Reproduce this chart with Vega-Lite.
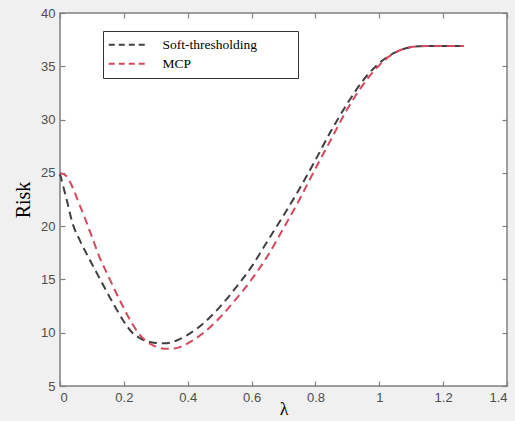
{
  "$schema": "https://vega.github.io/schema/vega-lite/v6.json",
  "width": 447,
  "height": 373,
  "autosize": "none",
  "padding": {"left": 60, "top": 13, "right": 8, "bottom": 35},
  "background": "#f0f0f0",
  "config": {
    "view": {"fill": "white", "stroke": "#808080", "strokeWidth": 1.5},
    "axis": {
      "grid": false,
      "domain": false,
      "ticks": true,
      "tickColor": "#808080",
      "tickSize": -5,
      "tickWidth": 1.2,
      "labelColor": "#4d4d4d",
      "labelFont": "Liberation Sans",
      "labelFontSize": 13,
      "titleFont": "Liberation Serif",
      "titleFontSize": 19,
      "titleFontWeight": "normal",
      "titleColor": "black"
    },
    "legend": {
      "orient": "none",
      "legendX": 43,
      "legendY": 18,
      "title": null,
      "strokeColor": "#333333",
      "fillColor": "white",
      "padding": 7,
      "labelFont": "Liberation Serif",
      "labelFontSize": 13.5,
      "labelColor": "black",
      "symbolType": "M-4,0H4M31.5,0",
      "symbolSize": 100,
      "symbolStrokeWidth": 2,
      "symbolDash": [6, 4],
      "symbolOffset": 12,
      "labelOffset": 27,
      "rowPadding": 4
    }
  },
  "data": {
    "values": [
      {"lambda": 0.0, "risk": 24.9, "method": "Soft-thresholding"},
      {"lambda": 0.02, "risk": 22.6, "method": "Soft-thresholding"},
      {"lambda": 0.04, "risk": 20.2, "method": "Soft-thresholding"},
      {"lambda": 0.06, "risk": 18.8, "method": "Soft-thresholding"},
      {"lambda": 0.08, "risk": 17.6, "method": "Soft-thresholding"},
      {"lambda": 0.1, "risk": 16.45, "method": "Soft-thresholding"},
      {"lambda": 0.125, "risk": 15.05, "method": "Soft-thresholding"},
      {"lambda": 0.15, "risk": 13.65, "method": "Soft-thresholding"},
      {"lambda": 0.175, "risk": 12.3, "method": "Soft-thresholding"},
      {"lambda": 0.2, "risk": 11.05, "method": "Soft-thresholding"},
      {"lambda": 0.225, "risk": 10.05, "method": "Soft-thresholding"},
      {"lambda": 0.25, "risk": 9.5, "method": "Soft-thresholding"},
      {"lambda": 0.275, "risk": 9.18, "method": "Soft-thresholding"},
      {"lambda": 0.3, "risk": 9.04, "method": "Soft-thresholding"},
      {"lambda": 0.325, "risk": 9.0, "method": "Soft-thresholding"},
      {"lambda": 0.35, "risk": 9.1, "method": "Soft-thresholding"},
      {"lambda": 0.375, "risk": 9.4, "method": "Soft-thresholding"},
      {"lambda": 0.4, "risk": 9.8, "method": "Soft-thresholding"},
      {"lambda": 0.45, "risk": 10.9, "method": "Soft-thresholding"},
      {"lambda": 0.5, "risk": 12.4, "method": "Soft-thresholding"},
      {"lambda": 0.55, "risk": 14.2, "method": "Soft-thresholding"},
      {"lambda": 0.6, "risk": 16.2, "method": "Soft-thresholding"},
      {"lambda": 0.65, "risk": 18.6, "method": "Soft-thresholding"},
      {"lambda": 0.7, "risk": 21.0, "method": "Soft-thresholding"},
      {"lambda": 0.75, "risk": 23.5, "method": "Soft-thresholding"},
      {"lambda": 0.8, "risk": 26.2, "method": "Soft-thresholding"},
      {"lambda": 0.85, "risk": 29.0, "method": "Soft-thresholding"},
      {"lambda": 0.9, "risk": 31.5, "method": "Soft-thresholding"},
      {"lambda": 0.95, "risk": 33.7, "method": "Soft-thresholding"},
      {"lambda": 1.0, "risk": 35.3, "method": "Soft-thresholding"},
      {"lambda": 1.05, "risk": 36.3, "method": "Soft-thresholding"},
      {"lambda": 1.1, "risk": 36.8, "method": "Soft-thresholding"},
      {"lambda": 1.15, "risk": 36.9, "method": "Soft-thresholding"},
      {"lambda": 1.2, "risk": 36.9, "method": "Soft-thresholding"},
      {"lambda": 1.265, "risk": 36.9, "method": "Soft-thresholding"},
      {"lambda": 0.0, "risk": 25.0, "method": "MCP"},
      {"lambda": 0.02, "risk": 24.7, "method": "MCP"},
      {"lambda": 0.04, "risk": 23.6, "method": "MCP"},
      {"lambda": 0.06, "risk": 22.1, "method": "MCP"},
      {"lambda": 0.08, "risk": 20.6, "method": "MCP"},
      {"lambda": 0.1, "risk": 19.0, "method": "MCP"},
      {"lambda": 0.125, "risk": 17.0, "method": "MCP"},
      {"lambda": 0.15, "risk": 15.4, "method": "MCP"},
      {"lambda": 0.175, "risk": 13.8, "method": "MCP"},
      {"lambda": 0.2, "risk": 12.3, "method": "MCP"},
      {"lambda": 0.225, "risk": 10.9, "method": "MCP"},
      {"lambda": 0.25, "risk": 9.8, "method": "MCP"},
      {"lambda": 0.275, "risk": 9.1, "method": "MCP"},
      {"lambda": 0.3, "risk": 8.7, "method": "MCP"},
      {"lambda": 0.325, "risk": 8.5, "method": "MCP"},
      {"lambda": 0.35, "risk": 8.5, "method": "MCP"},
      {"lambda": 0.375, "risk": 8.65, "method": "MCP"},
      {"lambda": 0.4, "risk": 9.0, "method": "MCP"},
      {"lambda": 0.45, "risk": 10.0, "method": "MCP"},
      {"lambda": 0.5, "risk": 11.4, "method": "MCP"},
      {"lambda": 0.55, "risk": 13.1, "method": "MCP"},
      {"lambda": 0.6, "risk": 15.0, "method": "MCP"},
      {"lambda": 0.65, "risk": 17.2, "method": "MCP"},
      {"lambda": 0.7, "risk": 19.8, "method": "MCP"},
      {"lambda": 0.75, "risk": 22.5, "method": "MCP"},
      {"lambda": 0.8, "risk": 25.4, "method": "MCP"},
      {"lambda": 0.85, "risk": 28.2, "method": "MCP"},
      {"lambda": 0.9, "risk": 31.0, "method": "MCP"},
      {"lambda": 0.95, "risk": 33.3, "method": "MCP"},
      {"lambda": 1.0, "risk": 35.1, "method": "MCP"},
      {"lambda": 1.05, "risk": 36.3, "method": "MCP"},
      {"lambda": 1.1, "risk": 36.8, "method": "MCP"},
      {"lambda": 1.15, "risk": 36.9, "method": "MCP"},
      {"lambda": 1.2, "risk": 36.9, "method": "MCP"},
      {"lambda": 1.265, "risk": 36.9, "method": "MCP"}
    ]
  },
  "resolve": {"axis": {"x": "independent", "y": "independent"}},
  "layer": [
    {
      "mark": {"type": "line", "strokeDash": [8, 5], "strokeWidth": 2, "interpolate": "monotone"},
      "encoding": {
        "x": {
          "field": "lambda", "type": "quantitative",
          "scale": {"domain": [0, 1.4], "nice": false, "zero": false},
          "axis": {"title": "λ", "values": [0, 0.2, 0.4, 0.6, 0.8, 1, 1.2, 1.4], "format": "~g", "labelPadding": 10, "titlePadding": -4, "titleFontSize": 18}
        },
        "y": {
          "field": "risk", "type": "quantitative",
          "scale": {"domain": [5, 40], "nice": false, "zero": false},
          "axis": {"title": "Risk", "values": [5, 10, 15, 20, 25, 30, 35, 40], "labelPadding": 10, "titlePadding": 7, "titleFontSize": 20}
        },
        "color": {
          "field": "method", "type": "nominal",
          "scale": {"domain": ["Soft-thresholding", "MCP"], "range": ["#404040", "#d4485c"]},
          "sort": ["Soft-thresholding", "MCP"]
        },
        "detail": {"field": "method"}
      }
    },
    {
      "mark": {"type": "line", "strokeOpacity": 0},
      "encoding": {
        "x": {
          "field": "lambda", "type": "quantitative",
          "axis": {"orient": "top", "labels": false, "title": null, "values": [0, 0.2, 0.4, 0.6, 0.8, 1, 1.2, 1.4]}
        },
        "y": {
          "field": "risk", "type": "quantitative",
          "axis": {"orient": "right", "labels": false, "title": null, "values": [5, 10, 15, 20, 25, 30, 35, 40]}
        },
        "detail": {"field": "method"}
      }
    }
  ]
}
